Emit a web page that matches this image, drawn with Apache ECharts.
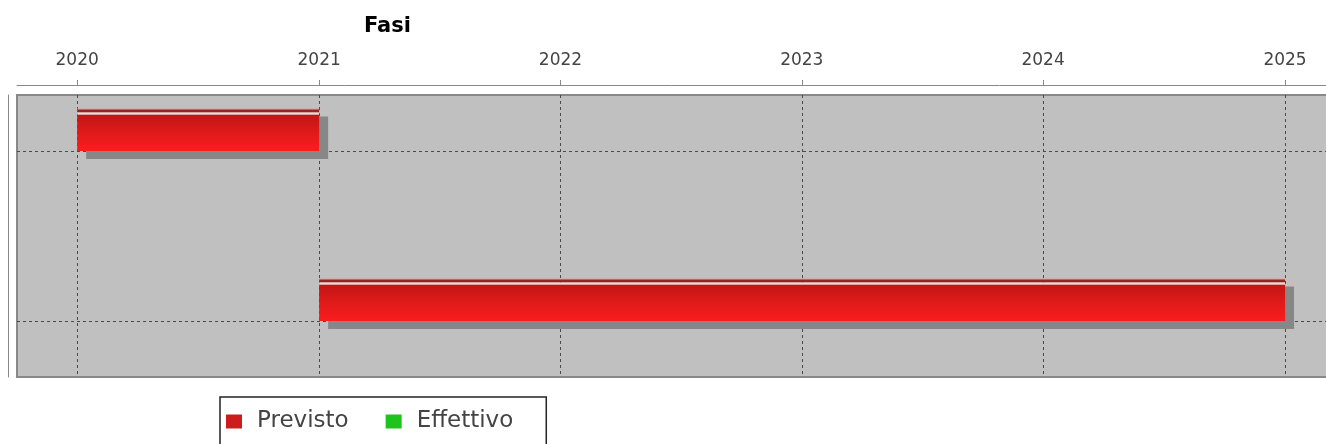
<!DOCTYPE html>
<html><head><meta charset="utf-8">
<script src="https://cdn.jsdelivr.net/npm/echarts@6/dist/echarts.min.js"></script>
<style>html,body{margin:0;padding:0;background:#fff}#c{width:1326px;height:444px}</style>
</head><body><div id="c"></div>
<script>
// ---- data ----
const categories = ['Fase 1', 'Fase 2'];
const seriesNames = ['Previsto', 'Effettivo'];
const previstoStart = ['2020-01-01', '2021-01-01'];
const previstoEnd = ['2021-01-01', '2025-01-01'];
const effettivoStart = [];
const effettivoEnd = [];
const axisRange = ['2019-10-02', '2025-03-10'];
const titleText = 'Fasi';

const FONT = 'DejaVu Sans';
const parse = s => echarts.time.parse(s).getTime();

function rows(starts, ends) {
  return starts.map((s, i) => [i, parse(s), parse(ends[i])]);
}

function makeRender(slot) {
  return function (params, api) {
    const cat = api.value(0);
    const p0 = api.coord([api.value(1), cat]);
    const p1 = api.coord([api.value(2), cat]);
    const band = Math.abs(api.size([0, 1])[1]);
    const h = band * 0.25;
    const x = p0[0];
    const w = p1[0] - p0[0];
    const y = slot === 0 ? p0[1] - h : p0[1];
    const dark = slot === 0 ? '#952424' : '#267a26';
    const hi = slot === 0 ? '#f6d6d6' : '#d6f6d6';
    const grad = slot === 0
      ? [{offset: 0, color: '#c21515'}, {offset: 0.5, color: '#e01a1a'}, {offset: 1, color: '#fb1d1d'}]
      : [{offset: 0, color: '#15a815'}, {offset: 0.5, color: '#1ac01a'}, {offset: 1, color: '#1de01d'}];
    return {
      type: 'group',
      children: [
        {type: 'rect', shape: {x: x + 9, y: y + 8, width: w, height: h}, style: {fill: '#878787'}},
        {type: 'rect', shape: {x: x, y: y + 6, width: w, height: h - 6},
          style: {fill: {type: 'linear', x: 0, y: 0, x2: 0, y2: 1, colorStops: grad}}},
        {type: 'rect', shape: {x: x, y: y, width: w, height: 1}, style: {fill: '#e89a9a'}},
        {type: 'rect', shape: {x: x, y: y + 1, width: w, height: 3}, style: {fill: dark}},
        {type: 'rect', shape: {x: x, y: y + 4, width: w, height: 2}, style: {fill: hi}}
      ]
    };
  };
}

const chart = echarts.init(document.getElementById('c'), null, {renderer: 'canvas'});
chart.setOption({
  animation: false,
  backgroundColor: '#ffffff',
  title: {
    text: titleText, left: 359, top: 11,
    textStyle: {fontFamily: FONT, fontSize: 21, fontWeight: 'bold', color: '#000'}
  },
  legend: {
    left: 220, top: 397, orient: 'horizontal',
    data: seriesNames,
    icon: 'rect', itemWidth: 16, itemHeight: 14, itemGap: 37,
    borderColor: '#222', borderWidth: 1.5,
    padding: [13, 33, 12, 6],
    textStyle: {fontFamily: FONT, fontSize: 23, color: '#444', padding: [0, 0, 0, 10]}
  },
  grid: {
    left: 17, top: 95, width: 1313, height: 282,
    outerBoundsMode: 'none', containLabel: false,
    show: true, backgroundColor: '#c0c0c0', borderColor: '#888', borderWidth: 2
  },
  xAxis: {
    type: 'time', position: 'top', offset: 10,
    min: parse(axisRange[0]), max: parse(axisRange[1]),
    splitNumber: 5,
    minInterval: 365 * 86400000, maxInterval: 366 * 86400000,
    axisLine: {show: true, onZero: false, lineStyle: {color: '#888', width: 1}},
    axisTick: {show: true, length: 5, lineStyle: {color: '#888'}},
    axisLabel: {
      show: true, margin: 16, fontFamily: FONT, fontSize: 17, color: '#444',
      showMinLabel: false, showMaxLabel: false,
      formatter: '{yyyy}'
    },
    splitLine: {show: true, showMinLine: false, showMaxLine: false,
      lineStyle: {color: '#4a4a4a', type: [3, 3], width: 1}}
  },
  yAxis: {
    type: 'value', min: -0.3294, max: 1.3294, inverse: true, splitNumber: 2,
    offset: 9,
    axisLine: {show: true, onZero: false, lineStyle: {color: '#888'}},
    axisTick: {show: false},
    axisLabel: {show: false},
    splitLine: {show: true, showMinLine: false, showMaxLine: false,
      lineStyle: {color: '#4a4a4a', type: [3, 3], width: 1}}
  },
  series: [
    {
      name: seriesNames[0], type: 'custom', renderItem: makeRender(0),
      itemStyle: {color: '#cc1c1c'},
      encode: {x: [1, 2], y: 0},
      data: rows(previstoStart, previstoEnd), clip: true
    },
    {
      name: seriesNames[1], type: 'custom', renderItem: makeRender(1),
      itemStyle: {color: '#1cc41c'},
      encode: {x: [1, 2], y: 0},
      data: rows(effettivoStart, effettivoEnd), clip: true
    }
  ]
});
</script>
</body></html>
